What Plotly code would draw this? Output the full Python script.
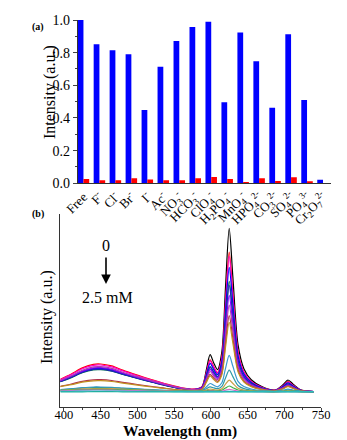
import plotly.graph_objects as go

# ---------------- Panel (a) data ----------------
anions = ["Free", "F", "Cl", "Br", "I", "Ac", "NO3", "HCO3", "ClO4", "H2PO4",
          "MnO4", "HPO4", "CO3", "SO4", "PO4", "Cr2O7"]
anion_labels = ["Free", "F<sup>-</sup>", "Cl<sup>-</sup>", "Br<sup>-</sup>", "I<sup>-</sup>",
                "Ac<sup>-</sup>", "NO<sub>3</sub><sup>-</sup>", "HCO<sub>3</sub><sup>-</sup>",
                "ClO<sub>4</sub><sup>-</sup>", "H<sub>2</sub>PO<sub>4</sub><sup>-</sup>",
                "MnO<sub>4</sub><sup>-</sup>", "HPO<sub>4</sub><sup>2-</sup>",
                "CO<sub>3</sub><sup>2-</sup>", "SO<sub>4</sub><sup>2-</sup>",
                "PO<sub>4</sub><sup>3-</sup>", "Cr<sub>2</sub>O<sub>7</sub><sup>2-</sup>"]
blue_vals = [1.00, 0.851, 0.814, 0.790, 0.449, 0.714, 0.872, 0.957, 0.990, 0.496,
             0.924, 0.747, 0.463, 0.912, 0.510, 0.022]
red_vals = [0.027, 0.018, 0.018, 0.031, 0.024, 0.018, 0.018, 0.031, 0.039, 0.027,
            0.008, 0.031, 0.014, 0.037, 0.012, 0.0]

# ---------------- Panel (b) data ----------------
wavelength = [395, 410, 425, 440, 450, 465, 480, 500, 520, 540, 560, 578, 588, 594, 599,
              604, 609, 615, 620, 625, 630, 637, 645, 655, 670, 688, 698, 705, 712, 722, 740]

spec_01 = [25.7, 30.0, 35.1, 38.1, 38.3, 36.7, 33.2, 29.1, 25.2, 21.5, 18.5, 17.6, 20.4, 37.7, 52.3,
           44.0, 37.4, 55.2, 120.2, 178.7, 129.9, 62.3, 38.3, 27.2, 20.1, 17.0, 22.0, 27.0, 22.9, 17.3, 15.5]
spec_02 = [27.8, 33.0, 39.1, 42.7, 43.0, 41.1, 36.9, 31.9, 27.2, 22.8, 19.2, 17.9, 20.2, 34.7, 47.2,
           40.1, 34.4, 49.7, 105.1, 154.8, 113.2, 55.5, 35.0, 25.5, 19.5, 16.8, 21.0, 25.3, 21.8, 17.0, 15.4]
spec_03 = [27.3, 32.4, 38.3, 41.7, 42.0, 40.1, 36.1, 31.3, 26.8, 22.5, 19.0, 17.8, 20.0, 34.1, 46.2,
           39.4, 33.9, 48.7, 102.4, 150.8, 110.4, 54.4, 34.4, 25.3, 19.4, 16.7, 20.8, 25.0, 21.6, 16.9, 15.4]
spec_04 = [25.7, 30.0, 35.1, 38.1, 38.3, 36.7, 33.2, 29.1, 25.2, 21.5, 18.5, 17.5, 19.5, 32.6, 43.7,
           37.3, 32.3, 45.9, 95.3, 139.7, 102.6, 51.2, 32.9, 24.4, 19.0, 16.6, 20.4, 24.2, 21.1, 16.8, 15.4]
spec_05 = [25.2, 29.4, 34.2, 37.1, 37.3, 35.8, 32.5, 28.5, 24.8, 21.2, 18.4, 17.4, 19.1, 30.7, 40.5,
           34.9, 30.5, 42.5, 86.3, 125.7, 92.8, 47.2, 30.8, 23.4, 18.6, 16.5, 19.8, 23.2, 20.5, 16.6, 15.4]
spec_06 = [25.4, 29.7, 34.7, 37.6, 37.8, 36.2, 32.9, 28.8, 25.0, 21.4, 18.5, 17.4, 19.1, 30.1, 39.7,
           34.3, 29.9, 41.6, 83.7, 121.7, 90.0, 46.0, 30.4, 23.1, 18.5, 16.5, 19.6, 22.9, 20.3, 16.6, 15.4]
spec_07 = [26.1, 30.7, 35.9, 39.1, 39.3, 37.6, 34.0, 29.7, 25.6, 21.8, 18.7, 17.5, 18.9, 28.9, 37.6,
           32.7, 28.7, 39.3, 77.3, 111.7, 83.0, 43.2, 29.0, 22.5, 18.2, 16.4, 19.2, 22.2, 19.8, 16.4, 15.4]
spec_08 = [26.6, 31.3, 36.8, 40.1, 40.3, 38.6, 34.8, 30.3, 26.1, 22.1, 18.8, 17.6, 18.8, 27.7, 35.5,
           31.0, 27.4, 36.9, 71.0, 101.8, 76.1, 40.3, 27.6, 21.8, 18.0, 16.3, 18.8, 21.5, 19.3, 16.3, 15.4]
spec_09 = [20.7, 23.0, 25.6, 27.2, 27.3, 26.5, 24.7, 22.5, 20.5, 18.5, 17.0, 16.5, 17.7, 25.7, 32.6,
           28.7, 25.6, 34.0, 64.1, 91.4, 68.7, 37.2, 25.9, 20.9, 17.5, 16.2, 18.4, 20.8, 18.9, 16.2, 15.4]
spec_10 = [20.3, 22.3, 24.8, 26.2, 26.3, 25.5, 23.9, 21.9, 20.0, 18.3, 16.8, 16.4, 17.6, 24.9, 31.1,
           27.5, 24.7, 32.3, 59.9, 84.6, 63.9, 35.3, 25.0, 20.4, 17.3, 16.1, 18.1, 20.3, 18.5, 16.1, 15.4]
spec_11 = [17.4, 18.3, 19.3, 20.0, 20.0, 19.7, 19.0, 18.1, 17.3, 16.6, 16.0, 15.8, 16.4, 20.2, 23.5,
           21.7, 20.2, 24.2, 38.7, 51.6, 40.7, 25.7, 20.4, 18.0, 16.3, 15.7, 16.8, 17.9, 17.0, 15.7, 15.3]
spec_12 = [17.2, 18.0, 18.9, 19.5, 19.5, 19.2, 18.6, 17.8, 17.1, 16.4, 15.9, 15.7, 16.1, 18.3, 20.2,
           19.1, 18.3, 20.6, 29.1, 36.8, 30.4, 21.5, 18.4, 16.9, 15.9, 15.5, 16.2, 16.8, 16.3, 15.6, 15.3]
spec_13 = [16.7, 17.3, 18.1, 18.5, 18.5, 18.3, 17.8, 17.2, 16.7, 16.2, 15.7, 15.6, 15.8, 17.0, 18.0,
           17.4, 16.9, 18.2, 22.8, 26.9, 23.5, 18.7, 17.0, 16.2, 15.7, 15.4, 15.8, 16.1, 15.8, 15.4, 15.3]
spec_14 = [16.4, 16.8, 17.4, 17.7, 17.7, 17.5, 17.2, 16.7, 16.3, 16.0, 15.6, 15.5, 15.6, 16.1, 16.6,
           16.3, 16.1, 16.7, 19.0, 21.0, 19.3, 17.0, 16.1, 15.7, 15.5, 15.4, 15.5, 15.7, 15.6, 15.4, 15.3]
spec_15 = [16.1, 16.4, 16.8, 17.0, 17.0, 16.9, 16.6, 16.3, 16.0, 15.8, 15.5, 15.4, 15.4, 15.7, 15.9,
           15.8, 15.7, 15.9, 16.9, 17.7, 17.0, 16.0, 15.6, 15.5, 15.4, 15.3, 15.4, 15.5, 15.4, 15.3, 15.3]
spec_16 = [15.6, 15.7, 15.9, 16.0, 16.0, 16.0, 15.8, 15.7, 15.6, 15.5, 15.4, 15.3, 15.3, 15.4, 15.4,
           15.4, 15.4, 15.4, 15.6, 15.7, 15.6, 15.4, 15.3, 15.3, 15.3, 15.3, 15.3, 15.3, 15.3, 15.3, 15.3]
spec_17 = [15.1, 15.2, 15.2, 15.3, 15.3, 15.3, 15.2, 15.1, 15.1, 15.0, 15.0, 15.0, 15.0, 15.0, 15.0,
           15.0, 15.0, 15.0, 15.0, 15.1, 15.0, 15.0, 15.0, 15.0, 15.0, 15.0, 15.0, 15.0, 15.0, 15.0, 15.0]

spectra = [spec_01, spec_02, spec_03, spec_04, spec_05, spec_06, spec_07, spec_08, spec_09,
           spec_10, spec_11, spec_12, spec_13, spec_14, spec_15, spec_16, spec_17]
spec_colors = ["#000000", "#FF0000", "#FF00CC", "#0000FF", "#006B4F", "#2020C0", "#8000FF",
               "#B03CB0", "#B0304A", "#C09020", "#3A9AD0", "#2E9AA5", "#C8A04A", "#3CB043",
               "#E066C8", "#2EC8D8", "#20B0A0"]

x_ticks_b = [400, 450, 500, 550, 600, 650, 700, 750]
y_ticks_a = [0.0, 0.2, 0.4, 0.6, 0.8, 1.0]

# the page body has an 8px margin, so the figure is offset by 8px in the window
OFF = 8
W, H = 347 - OFF, 440 - OFF
SERIF = "Liberation Serif, Times New Roman, serif"


def px_x(p):
    return (p - OFF) / W


def px_y(p):
    return 1 - (p - OFF) / H


fig = go.Figure()

# Panel (a) bars
fig.add_trace(go.Bar(x=anions, y=blue_vals, marker=dict(color="#0000FF", line=dict(width=0)),
                     xaxis="x", yaxis="y", showlegend=False))
fig.add_trace(go.Bar(x=anions, y=red_vals, marker=dict(color="#FF0000", line=dict(width=0)),
                     xaxis="x", yaxis="y", showlegend=False))

# Panel (b) spectra
for s, c in zip(spectra, spec_colors):
    fig.add_trace(go.Scatter(x=wavelength, y=s, mode="lines",
                             line=dict(color=c, width=1.2, shape="spline", smoothing=0.8),
                             xaxis="x2", yaxis="y2", showlegend=False))

fig.update_layout(
    template="none",
    width=W, height=H,
    margin=dict(l=0, r=0, t=0, b=0, pad=0),
    paper_bgcolor="white", plot_bgcolor="white",
    barmode="group", bargap=0.28, bargroupgap=0,
    showlegend=False,
    font=dict(family=SERIF, color="black"),
    xaxis=dict(domain=[px_x(77.7), px_x(331)], anchor="y", type="category", automargin=False,
               range=[-0.36, 15.5], tickvals=anions, ticktext=anion_labels,
               tickangle=-45, tickfont=dict(size=13, family=SERIF),
               showline=True, linecolor="#333", linewidth=1, ticks="", showgrid=False,
               zeroline=False),
    yaxis=dict(domain=[px_y(183.3), px_y(20)], anchor="x", range=[0, 1.0], automargin=False,
               tickvals=y_ticks_a, tickformat=".1f", tickfont=dict(size=14, family=SERIF),
               showline=True, linecolor="#333", linewidth=1, ticks="outside", ticklen=4,
               minor=dict(ticks="outside", ticklen=2, dtick=0.1, showgrid=False),
               showgrid=False, zeroline=False),
    xaxis2=dict(domain=[px_x(60.3), px_x(321)], anchor="y2", range=[395, 750], automargin=False,
                tickvals=x_ticks_b, tickfont=dict(size=12.5, family=SERIF),
                ticklabelstandoff=-7,
                showline=True, linecolor="#333", linewidth=1, ticks="outside", ticklen=3,
                minor=dict(ticks="outside", ticklen=2, dtick=25, showgrid=False),
                showgrid=False, zeroline=False),
    yaxis2=dict(domain=[px_y(407), px_y(214)], anchor="x2", range=[0, 193], automargin=False,
                showticklabels=False, ticks="", showline=True, linecolor="#333",
                linewidth=1, showgrid=False, zeroline=False),
)

annotations = [
    dict(text="<b>(a)</b>", x=px_x(38), y=px_y(27), xref="paper", yref="paper",
         xanchor="center", yanchor="middle", showarrow=False, font=dict(size=10, family=SERIF)),
    dict(text="<b>(b)</b>", x=px_x(38), y=px_y(214), xref="paper", yref="paper",
         xanchor="center", yanchor="middle", showarrow=False, font=dict(size=10, family=SERIF)),
    dict(text="Intensity (a.u.)", x=px_x(50), y=px_y(92), xref="paper", yref="paper",
         xanchor="center", yanchor="middle",
         textangle=-90, showarrow=False, font=dict(size=16, family=SERIF)),
    dict(text="Intensity (a.u.)", x=px_x(47), y=px_y(317), xref="paper", yref="paper",
         xanchor="center", yanchor="middle",
         textangle=-90, showarrow=False, font=dict(size=16, family=SERIF)),
    dict(text="<b>Wavelength (nm)</b>", x=px_x(180), y=px_y(431), xref="paper", yref="paper",
         xanchor="center", yanchor="middle", showarrow=False, borderpad=0,
         font=dict(size=15.5, family=SERIF)),
    dict(text="0", x=px_x(106), y=px_y(245), xref="paper", yref="paper",
         xanchor="center", yanchor="middle", showarrow=False, font=dict(size=16, family=SERIF)),
    dict(text="2.5 mM", x=px_x(107), y=px_y(297), xref="paper", yref="paper",
         xanchor="center", yanchor="middle", showarrow=False, font=dict(size=16, family=SERIF)),
    dict(text="", x=px_x(106), y=px_y(284), xref="paper", yref="paper",
         showarrow=True, ax=0, ay=-28, arrowhead=2, arrowsize=1.2, arrowwidth=1.6,
         arrowcolor="black"),
]
fig.update_layout(annotations=annotations)

fig.write_html("out.html")
